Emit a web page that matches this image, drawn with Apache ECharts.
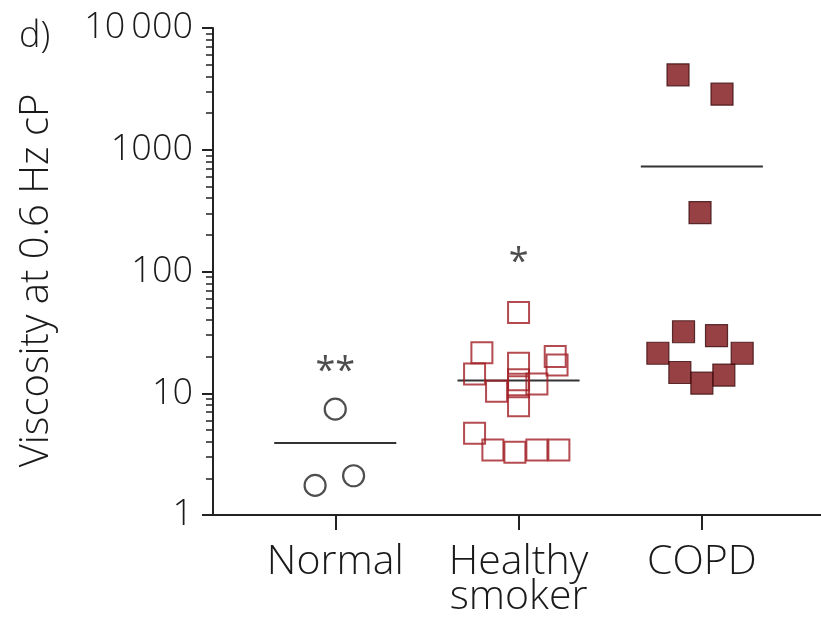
<!DOCTYPE html>
<html>
<head>
<meta charset="utf-8">
<script src="https://cdn.jsdelivr.net/npm/echarts@6/dist/echarts.min.js"></script>
<style>html,body{margin:0;padding:0;background:#fff}#c{width:821px;height:625px}</style>
</head>
<body>
<div id="c"></div>
<script>
// Categories (x positions 1,2,3)
var categories = ['Normal', 'Healthy\nsmoker', 'COPD'];
// Y axis tick labels
var yTicks = [1, 10, 100, 1000, 10000];
var yTickLabels = ['1', '10', '100', '1000', '10\u2009000'];

// Normal (open circles): jitter offset from category, value
var normalOffsets = [0.00, -0.11, 0.10];
var normalValues  = [7.4, 1.75, 2.1];
// Healthy smoker (open squares)
var smokerOffsets = [0.00, -0.20, -0.24, 0.00, 0.20, 0.21, 0.00, 0.00, 0.10, -0.12, 0.00, -0.24, -0.14, -0.02, 0.10, 0.22];
var smokerValues  = [46, 21.5, 14.4, 17.6, 20, 17.1, 12.9, 11.3, 11.9, 10.4, 7.9, 4.7, 3.42, 3.27, 3.42, 3.42];
// COPD (filled squares)
var copdOffsets = [-0.13, 0.11, -0.01, -0.10, 0.08, -0.24, 0.22, -0.12, 0.12, 0.00];
var copdValues  = [4125, 2860, 305, 32, 29.7, 21.3, 21.3, 14.8, 14.1, 12.1];
// Group means
var means = [3.9, 12.7, 728];
// Significance markers
var sigLabels = ['**', '*'];
var sigValues = [15, 117];

function pts(cat, offs, vals) {
  return vals.map(function (v, i) { return [cat + offs[i], v]; });
}
var minorVals = [];
for (var d = 1; d < 10000; d *= 10) for (var k = 2; k <= 9; k++) minorVals.push(k * d);

var txt = '#1a1a1a';
var font = '"Open Sans"';
var fw = 300;
var meanSeries = means.map(function (m, i) {
  return {
    type: 'line', xAxisIndex: 0, yAxisIndex: 0, symbol: 'none', silent: true,
    lineStyle: { color: '#333', width: 2 },
    data: [[i + 1 - 0.333, m], [i + 1 + 0.333, m]], z: 1
  };
});

var chart = echarts.init(document.getElementById('c'));
chart.setOption({
  animation: false,
  backgroundColor: '#fff',
  grid: { left: 213, top: 28, bottom: 110, right: 0, containLabel: false, outerBoundsMode: 'none' },
  graphic: [{ type: 'text', left: 19, top: 19, style: { text: 'd)', font: fw + ' 36px ' + font, fill: txt } }],
  xAxis: {
    type: 'value', min: 0.333, max: 3.65,
    splitLine: { show: false },
    axisLine: { show: true, lineStyle: { color: '#222', width: 2 } },
    axisTick: { show: true, customValues: [1, 2, 3], length: 15, lineStyle: { color: '#222', width: 2 } },
    axisLabel: { customValues: [1, 2, 3], color: txt, fontFamily: font, fontWeight: fw, fontSize: 41, lineHeight: 35, margin: 30,
      formatter: function (v) { return categories[Math.round(v) - 1]; } }
  },
  yAxis: [{
    type: 'log', logBase: 10, min: 1, max: 10000,
    name: 'Viscosity at 0.6 Hz cP', nameLocation: 'middle', nameGap: 156, nameRotate: 90,
    nameTextStyle: { color: txt, fontFamily: font, fontWeight: fw, fontSize: 40, padding: [0, 18, 0, 0] },
    splitLine: { show: false },
    axisLine: { show: true, lineStyle: { color: '#222', width: 2 } },
    axisTick: { show: true, customValues: yTicks, length: 11, lineStyle: { color: '#222', width: 2 } },
    axisLabel: { customValues: yTicks, color: txt, fontFamily: font, fontWeight: fw, fontSize: 36, margin: 20,
      formatter: function (v) { var i = yTicks.indexOf(Math.round(v)); return i >= 0 ? yTickLabels[i] : ''; } }
  }, {
    type: 'log', logBase: 10, min: 1, max: 10000, position: 'left', offset: 0,
    splitLine: { show: false }, axisLine: { show: false },
    axisTick: { show: true, customValues: minorVals, length: 7, lineStyle: { color: '#222', width: 1.5 } },
    axisLabel: { show: false }
  }],
  series: meanSeries.concat([
    { type: 'scatter', symbol: 'circle', symbolSize: 21, z: 3,
      itemStyle: { color: '#fff', borderColor: '#222', borderWidth: 2.2 },
      data: pts(1, normalOffsets, normalValues) },
    { type: 'scatter', symbol: 'rect', symbolSize: 21, z: 3,
      itemStyle: { color: 'rgba(0,0,0,0)', borderColor: '#a01e24', borderWidth: 2 },
      data: pts(2, smokerOffsets, smokerValues) },
    { type: 'scatter', symbol: 'rect', symbolSize: 22, z: 3,
      itemStyle: { color: '#7e1215', borderColor: '#3a0a0c', borderWidth: 1.2 },
      data: pts(3, copdOffsets, copdValues) },
    { type: 'scatter', symbolSize: 0, silent: true,
      label: { show: true, position: 'inside', color: '#222', fontFamily: font, fontWeight: 400, fontSize: 36,
        formatter: function (p) { return p.data[2]; } },
      data: sigLabels.map(function (s, i) { return [i + 1, sigValues[i], s]; }) }
  ])
});
</script>
</body>
</html>
